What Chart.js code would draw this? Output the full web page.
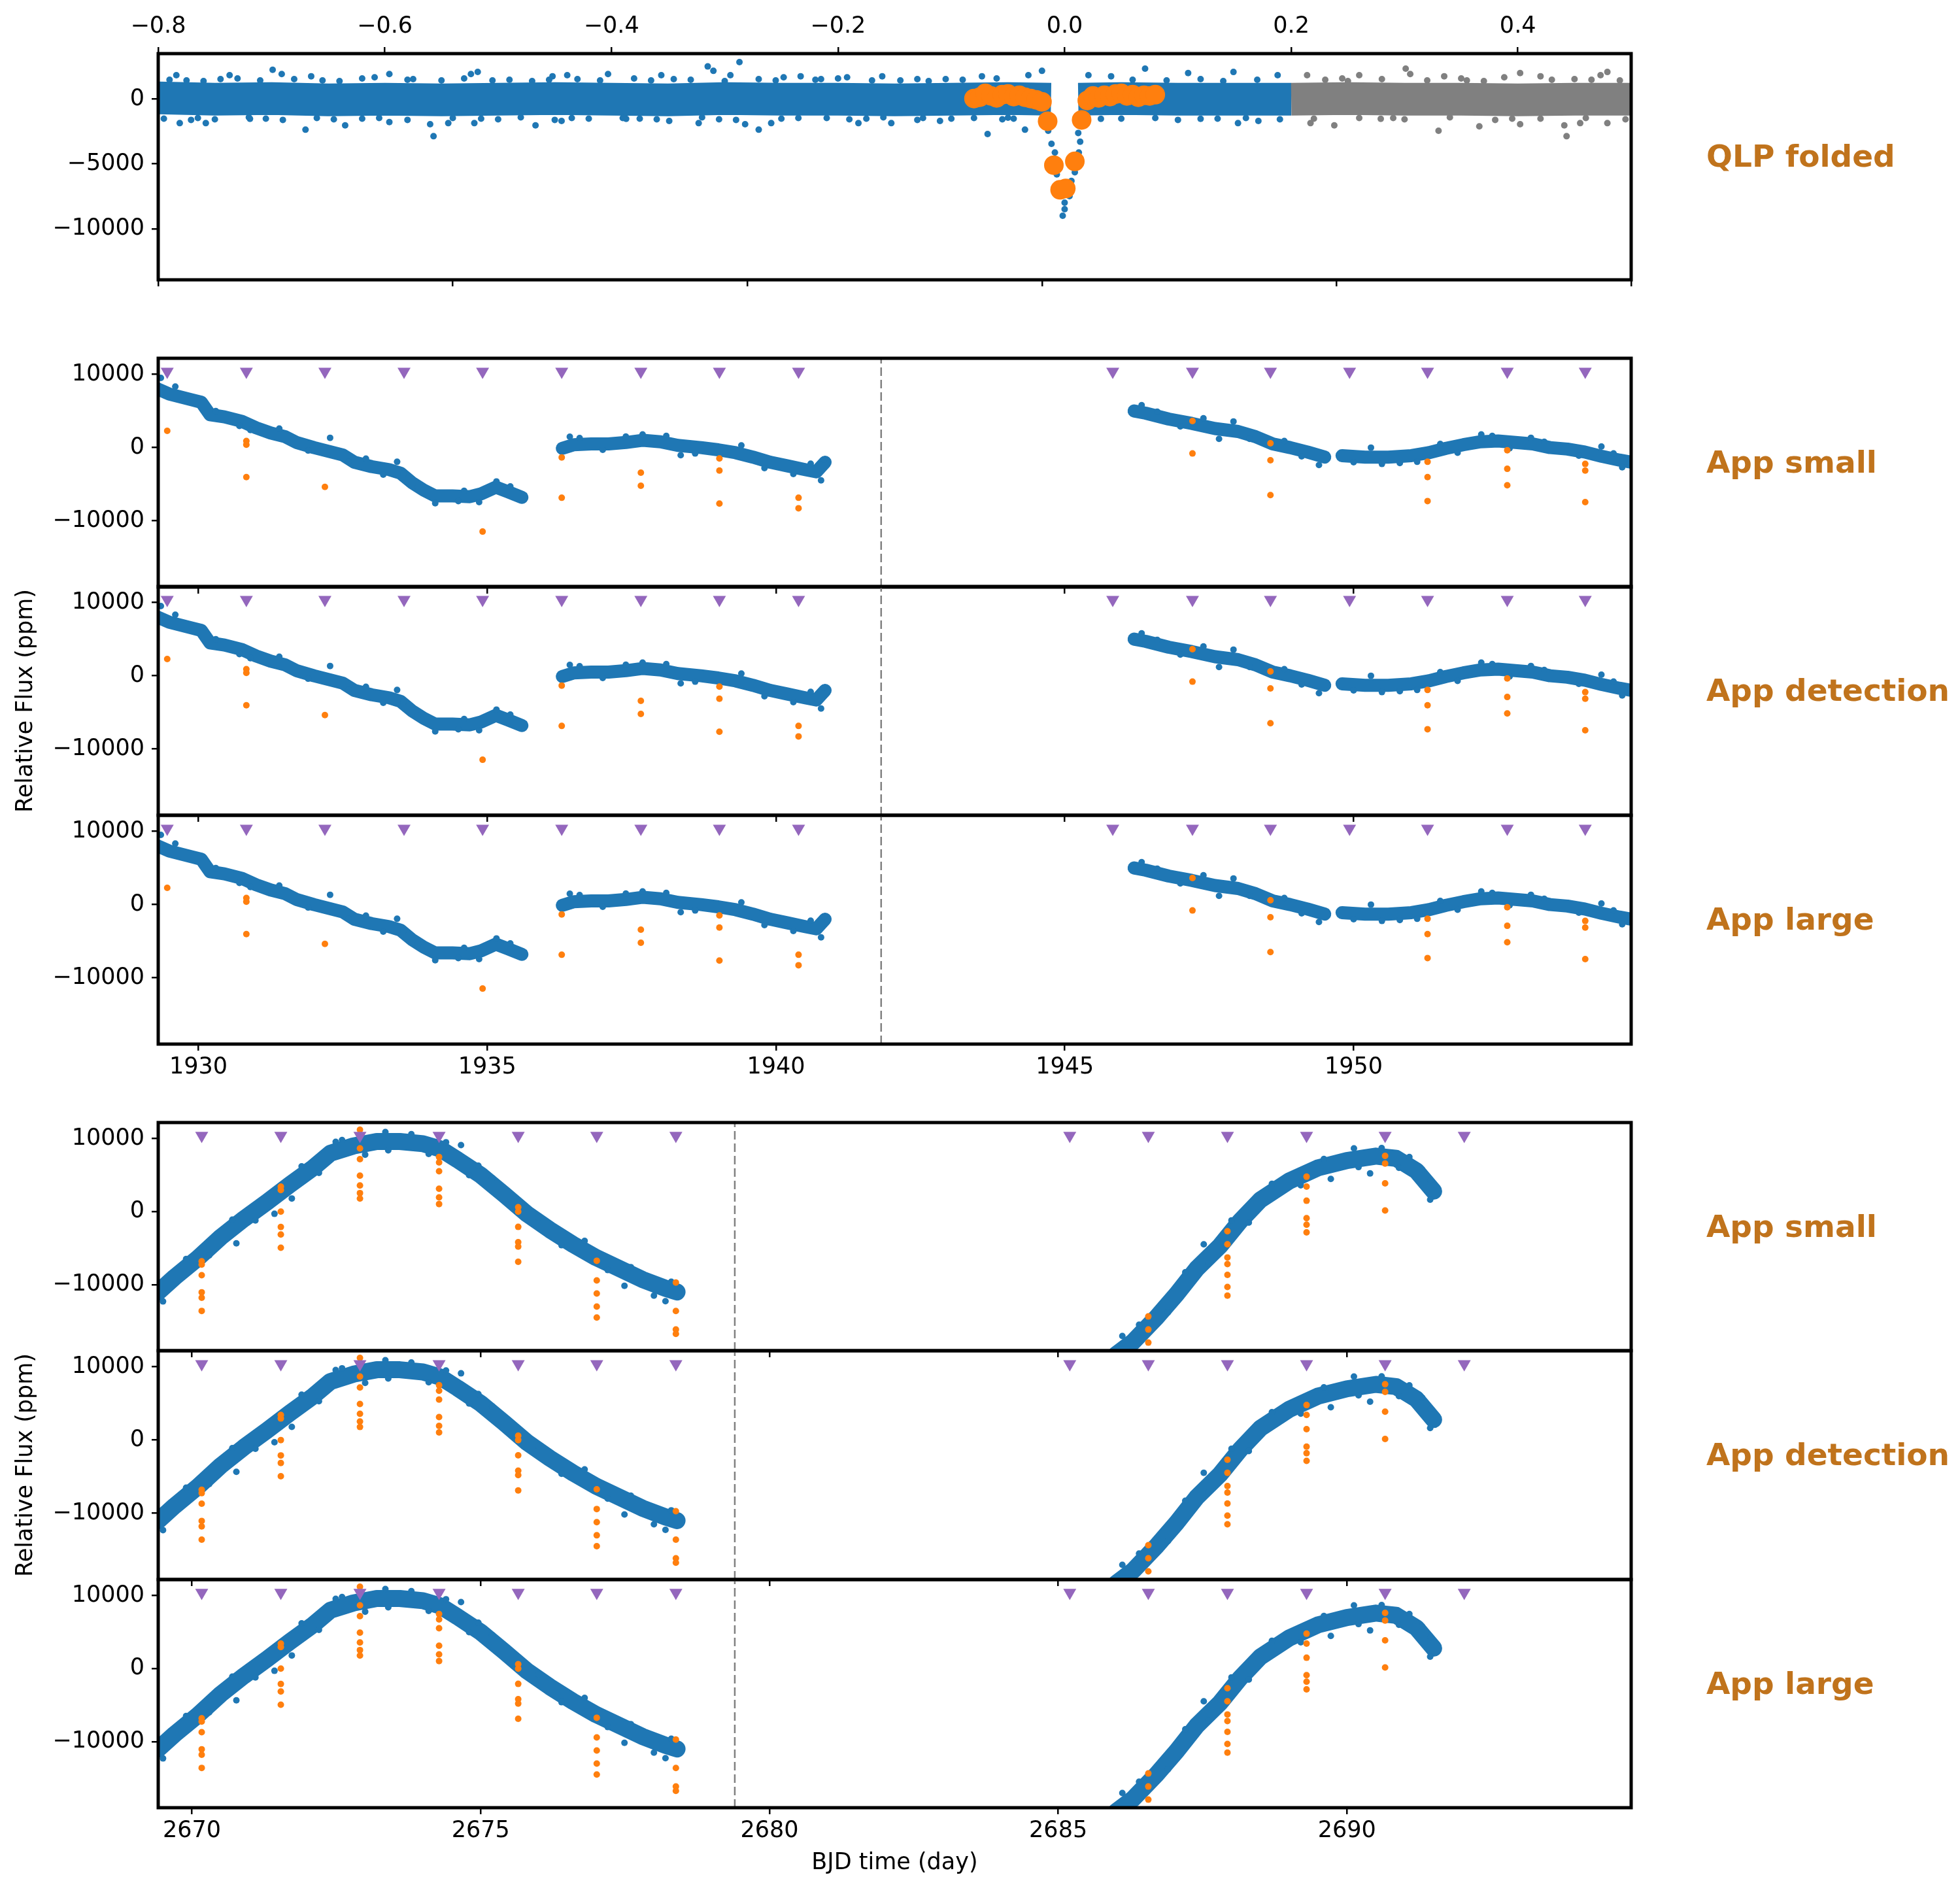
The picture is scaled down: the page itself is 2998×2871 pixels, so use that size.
<!DOCTYPE html>
<html lang="en">
<head>
<meta charset="UTF-8">
<title>QLP folded and App light curves</title>
<script src="https://cdn.jsdelivr.net/npm/chart.js"></script>
<style>
  body { margin: 0; background: #fff; }
  #page { position: relative; width: 2998px; height: 2871px; overflow: hidden; background: #fff; }
  #page canvas { position: absolute; left: 0; }
</style>
</head>
<body>
<div id="page">
  <canvas id="qlpFolded"></canvas>
  <canvas id="s1Small"></canvas>
  <canvas id="s1Detection"></canvas>
  <canvas id="s1Large"></canvas>
  <canvas id="s2Small"></canvas>
  <canvas id="s2Detection"></canvas>
  <canvas id="s2Large"></canvas>
</div>
<script>
// ---------- data ----------

// tick values
const phaseTicks = [-0.8, -0.6, -0.4, -0.2, 0.0, 0.2, 0.4];
const phaseBottomTicks = [-0.8, -0.54, -0.28, -0.02, 0.24, 0.5];
const qlpFluxTicks = [-10000, -5000, 0];
const fluxTicks = [-10000, 0, 10000];
const sector1Ticks = [1930, 1935, 1940, 1945, 1950];
const sector2Ticks = [2670, 2675, 2680, 2685, 2690];

// axis limits
const phaseMin = -0.8, phaseMax = 0.5;
const qlpFluxMin = -13950, qlpFluxMax = 3520;
const fluxMin = -19050, fluxMax = 12200;
const sector1Min = 1929.304, sector1Max = 1954.805;
const sector2Min = 2669.417, sector2Max = 2694.92;

// QLP folded: dense band centre (blue left/right of transit, grey beyond 0.2)
const qlpBandLeftPhase = [-0.8, -0.75, -0.7, -0.65, -0.6, -0.55, -0.5, -0.45, -0.4, -0.35, -0.3, -0.25, -0.2, -0.15, -0.1, -0.05, -0.012];
const qlpBandLeftFlux = [100, 0, 50, -50, 0, -50, 0, 50, 0, -50, 50, 0, 0, -50, 0, 50, 0];
const qlpBandRightPhase = [0.012, 0.05, 0.1, 0.15, 0.2];
const qlpBandRightFlux = [0, 50, 0, 0, 0];
const qlpGreyBandPhase = [0.2, 0.25, 0.3, 0.35, 0.4, 0.45, 0.5];
const qlpGreyBandFlux = [0, 50, 0, 0, -50, 0, 0];

// QLP folded: individual blue points (outliers, band edges, transit)
const qlpBluePoints = [
  [-0.784, 1850], [-0.737, 1850], [-0.699, 2270], [-0.691, 1940], [-0.665, 1770], [-0.609, 1690],
  [-0.596, 1940], [-0.524, 1940], [-0.518, 2110], [-0.452, 1770], [-0.439, 1850], [-0.403, 1940],
  [-0.356, 1850], [-0.315, 2530], [-0.310, 2190], [-0.295, 1850], [-0.287, 2860], [-0.248, 1690],
  [-0.233, 1770], [-0.192, 1690], [-0.161, 1770], [-0.073, 1770], [-0.032, 1850], [-0.020, 2190],
  [0.021, 1850], [0.041, 1770], [0.071, 2360], [0.109, 2020], [0.149, 2100], [0.188, 1850],
  [-0.781, -1850], [-0.771, -1600], [-0.758, -1850], [-0.719, -1515], [-0.670, -2355], [-0.635, -2020],
  [-0.596, -1770], [-0.560, -1935], [-0.557, -2860], [-0.544, -1850], [-0.521, -1850], [-0.467, -2020],
  [-0.444, -1680], [-0.387, -1515], [-0.349, -1680], [-0.323, -1850], [-0.282, -1935], [-0.270, -2355],
  [-0.259, -1850], [-0.182, -1850], [-0.153, -1850], [-0.110, -1680], [-0.068, -2690], [-0.050, -1430],
  [-0.035, -2355], [0.032, -1515], [0.120, -1515], [0.153, -1850], [0.171, -1680],
  [-0.79, 1500], [-0.76, 1400], [-0.73, 1600], [-0.71, 1450], [-0.68, 1550], [-0.64, 1400],
  [-0.62, 1600], [-0.58, 1500], [-0.55, 1450], [-0.53, 1600], [-0.49, 1500], [-0.47, 1400],
  [-0.43, 1550], [-0.41, 1450], [-0.38, 1600], [-0.33, 1500], [-0.30, 1400], [-0.27, 1550],
  [-0.22, 1500], [-0.20, 1600], [-0.17, 1450], [-0.13, 1550], [-0.12, 1400], [-0.09, 1500],
  [-0.06, 1600], [0.06, 1500], [0.09, 1450], [0.12, 1550], [0.14, 1400], [0.17, 1500],
  [-0.775, 1450], [-0.745, 1550], [-0.655, 1450], [-0.575, 1550], [-0.505, 1450], [-0.455, 1500],
  [-0.365, 1450], [-0.345, 1550], [-0.255, 1450], [-0.215, 1550], [-0.145, 1450], [-0.105, 1550],
  [-0.795, -1500], [-0.75, -1550], [-0.72, -1400], [-0.69, -1600], [-0.66, -1450], [-0.62, -1500],
  [-0.58, -1600], [-0.54, -1450], [-0.50, -1550], [-0.48, -1400], [-0.45, -1600], [-0.42, -1500],
  [-0.39, -1450], [-0.36, -1550], [-0.32, -1400], [-0.29, -1600], [-0.25, -1500], [-0.21, -1450],
  [-0.19, -1550], [-0.16, -1400], [-0.13, -1600], [-0.10, -1500], [-0.08, -1450], [-0.045, -1500],
  [0.05, -1500], [0.08, -1450], [0.10, -1600], [0.135, -1500], [0.16, -1450], [0.19, -1550],
  [-0.765, -1450], [-0.705, -1500], [-0.645, -1550], [-0.605, -1450], [-0.515, -1500], [-0.435, -1450],
  [-0.375, -1500], [-0.305, -1550], [-0.235, -1450], [-0.175, -1500], [-0.125, -1450], [-0.055, -1550],
  [-0.0175, -1090], [-0.0145, -2440], [-0.0116, -3450], [-0.0086, -4120], [-0.0069, -5810],
  [-0.004, -6820], [-0.0017, -9000], [0.0, -7990], [0.0, -8500], [0.0043, -7490], [0.006, -6310],
  [0.009, -5640], [0.0125, -4120], [0.0137, -3280], [0.012, -2610], [0.015, -1200]
];

// QLP folded: grey (out-of-window) points
const qlpGreyPoints = [
  [0.214, 1850], [0.260, 1850], [0.301, 2360], [0.305, 1940], [0.335, 1770], [0.388, 1690],
  [0.402, 2020], [0.420, 1770], [0.473, 1850], [0.479, 2100],
  [0.217, -1850], [0.238, -2020], [0.279, -1515], [0.330, -2440], [0.366, -2100], [0.402, -1935],
  [0.441, -2020], [0.443, -2860], [0.455, -1850], [0.479, -1850],
  [0.23, 1500], [0.25, 1400], [0.28, 1550], [0.32, 1450], [0.35, 1600], [0.37, 1400],
  [0.43, 1500], [0.45, 1550], [0.49, 1450], [0.245, 1600], [0.355, 1450], [0.465, 1500],
  [0.22, -1500], [0.26, -1450], [0.30, -1550], [0.34, -1400], [0.38, -1600], [0.42, -1500],
  [0.46, -1450], [0.495, -1550], [0.29, -1450], [0.395, -1500]
];

// QLP folded: binned (orange) points
const qlpBinPhase = [-0.080, -0.075, -0.070, -0.065, -0.060, -0.055, -0.050, -0.045, -0.040, -0.035,
  -0.030, -0.025, -0.020, -0.015, -0.0095, -0.004, 0.001, 0.009, 0.015, 0.020,
  0.025, 0.030, 0.035, 0.040, 0.045, 0.050, 0.055, 0.060, 0.065, 0.070, 0.075, 0.080];
const qlpBinFlux = [50, 150, 450, 250, 100, 350, 400, 200, 300, 150,
  50, -50, -200, -1700, -5100, -7000, -6900, -4800, -1600, -100,
  250, 100, 300, 200, 400, 450, 250, 350, 150, 300, 250, 350];

// sector 1 light curve trend (four continuous stretches)
const s1TrendDays = [
  [1929.3, 1929.5, 1929.7, 1929.9, 1930.05, 1930.2, 1930.45, 1930.75, 1931.0, 1931.25, 1931.5, 1931.7, 1932.0, 1932.3,
   1932.5, 1932.7, 1933.0, 1933.3, 1933.5, 1933.7, 1933.9, 1934.1, 1934.4, 1934.7, 1934.9, 1935.15, 1935.35, 1935.6],
  [1936.3, 1936.5, 1936.8, 1937.1, 1937.4, 1937.7, 1938.0, 1938.3, 1938.7, 1939.0, 1939.3, 1939.6, 1939.9, 1940.2, 1940.5, 1940.7, 1940.85],
  [1946.2, 1946.4, 1946.8, 1947.2, 1947.6, 1948.0, 1948.3, 1948.6, 1948.9, 1949.2, 1949.5],
  [1949.8, 1950.2, 1950.6, 1951.0, 1951.3, 1951.6, 1951.9, 1952.2, 1952.5, 1952.8, 1953.1, 1953.4, 1953.7, 1954.0, 1954.3, 1954.6, 1954.82]
];
const s1TrendFlux = [
  [8000, 7300, 6900, 6500, 6200, 4500, 4200, 3600, 2700, 2000, 1500, 700, 0, -600,
   -1000, -2000, -2600, -3000, -3500, -4800, -5800, -6600, -6600, -6700, -6300, -5400, -6000, -6800],
  [-100, 400, 500, 500, 700, 1000, 800, 300, 0, -300, -700, -1300, -2000, -2500, -3000, -3300, -2000],
  [5000, 4700, 3900, 3300, 2600, 2200, 1500, 500, 0, -600, -1300],
  [-1100, -1300, -1300, -1100, -700, -100, 400, 800, 900, 700, 500, 0, -200, -600, -1200, -1700, -2000]
];
const s1Scatter = [
  [1929.35, 9520], [1929.6, 8330], [1930.71, 2970], [1932.28, 1340], [1933.44, -1940], [1933.55, -3570],
  [1934.1, -7590], [1934.86, -7450], [1935.16, -4620], [1936.43, 1490], [1937.69, 1790], [1938.35, -1040],
  [1940.78, -4470], [1940.83, -1630], [1946.33, 5800], [1947.67, 1190], [1947.92, 3570], [1949.4, -2380],
  [1950.3, 0], [1950.49, -2230], [1951.1, -1940], [1952.21, 1790], [1953.07, 1340], [1954.29, 150], [1954.65, -2680],
  [1930.3, 5000], [1930.9, 2400], [1931.4, 2600], [1931.9, -400], [1932.6, -1900], [1932.9, -1500],
  [1933.2, -3700], [1933.8, -5400], [1934.5, -7300], [1934.6, -5900], [1935.4, -5300], [1936.6, 1300],
  [1937.0, -300], [1937.4, 1500], [1938.1, 1600], [1938.6, -800], [1939.4, 300], [1939.8, -2800],
  [1940.3, -3600], [1940.6, -2200], [1946.6, 4900], [1947.0, 2900], [1947.4, 4000], [1948.2, 1200],
  [1948.8, 900], [1949.1, -1200], [1950.0, -2000], [1950.8, -2100], [1951.5, 500], [1951.8, -700],
  [1952.4, 1600], [1952.7, -100], [1953.3, 800], [1953.9, -1100], [1954.5, -800]
];
// predicted transits (triangles) and in-transit points (orange) per transit
const s1Transits = [1929.46, 1930.83, 1932.19, 1933.56, 1934.92, 1936.29, 1937.66, 1939.02, 1940.39,
  1945.83, 1947.21, 1948.56, 1949.93, 1951.28, 1952.66, 1954.01];
const s1TransitFlux = [[2290], [900, 400, -4020], [-5360], [], [-11470], [-1340, -6850], [-3430, -5210],
  [-1490, -3130, -7650], [-6850, -8280], [], [3630, -800], [590, -1730, -6490], [],
  [-1940, -4020, -7300], [-360, -2900, -5150], [-2230, -3130, -7450]];
const s1GapDay = 1941.82;

// sector 2 light curve trend (two continuous stretches)
const s2TrendDays = [
  [2669.42, 2669.7, 2670.1, 2670.5, 2670.9, 2671.3, 2671.7, 2672.1, 2672.4, 2672.8, 2673.2, 2673.6, 2674.0,
   2674.3, 2674.6, 2675.0, 2675.4, 2675.8, 2676.2, 2676.6, 2677.0, 2677.4, 2677.8, 2678.2, 2678.4],
  [2686.0, 2686.3, 2686.7, 2687.05, 2687.4, 2687.8, 2688.15, 2688.5, 2689.0, 2689.5, 2690.0, 2690.5, 2690.85, 2691.2, 2691.5]
];
const s2TrendFlux = [
  [-11000, -9000, -6400, -3500, -1000, 1300, 3700, 6000, 8000, 9000, 9600, 9600, 9300,
   8600, 7100, 5000, 2400, -300, -2500, -4500, -6300, -7800, -9300, -10500, -11000],
  [-19600, -17800, -14500, -11300, -7800, -4700, -1300, 1600, 4200, 6000, 7000, 7600, 7300, 5600, 2800]
];
const s2Scatter = [
  [2670.77, -4340], [2671.43, -300], [2671.73, 1800], [2672.49, 9560], [2673.35, 10900], [2674.66, 9110],
  [2674.96, 6280], [2677.49, -10170], [2678.2, -12260], [2686.11, -17040], [2687.52, -4480], [2689.72, 4480],
  [2690.12, 8670], [2690.4, 5230], [2691.08, 7470], [2691.44, 1640],
  [2669.5, -12300], [2669.9, -6500], [2670.3, -6000], [2670.7, -1100], [2671.1, -1200], [2671.9, 6200],
  [2672.2, 5300], [2672.6, 9800], [2673.0, 7800], [2673.4, 8400], [2673.8, 10600], [2674.1, 7900],
  [2674.4, 9500], [2674.8, 5000], [2675.2, 4600], [2675.6, 500], [2676.0, -800], [2676.4, -4600],
  [2676.8, -4000], [2677.2, -8000], [2677.6, -7600], [2678.0, -11500], [2678.3, -9600],
  [2686.4, -15500], [2686.9, -13800], [2687.2, -8300], [2687.6, -7100], [2688.0, -1200], [2688.3, -1500],
  [2688.7, 3800], [2689.2, 3600], [2689.6, 7200], [2690.2, 6100], [2690.6, 8700], [2690.9, 6000],
  [2691.3, 5800], [2691.45, 4300]
];
const s2Transits = [2670.17, 2671.54, 2672.91, 2674.28, 2675.65, 2677.01, 2678.38,
  2685.20, 2686.56, 2687.93, 2689.30, 2690.66, 2692.03];
const s2TransitFlux = [[-6800, -7250, -8700, -11050, -11800, -13600], [3430, 2950, 0, -2100, -3140, -4940],
  [11220, 8670, 7180, 4930, 3580, 2540, 1790], [7480, 6730, 5530, 3140, 1940, 1040],
  [600, 0, -2090, -4180, -4790, -6880], [-6730, -9420, -11220, -13010, -14500], [-9720, -13610, -16150, -16750],
  [], [-14360, -16150, -17940], [-2690, -4480, -6280, -7180, -8670, -10320, -11510],
  [4780, 3430, 1490, -900, -1790, -2840], [7630, 6580, 3880, 150], []];
const s2GapDay = 2679.40;

const markerLevel = 10400;

// ---------- styling / helpers ----------
Chart.defaults.font.family = 'DejaVu Sans';
const BLUE = '#1f77b4', ORANGE = '#ff7f0e', PURPLE = '#9467bd', GREY = '#808080', TAG = '#c0731c';
const TICK_FONT = { family: 'DejaVu Sans', size: 35 };
const PAGE_W = 2998, AREA_RIGHT = 2495, AXIS_W = 242;

const fluxFmt = v => String(v).replace('-', '\u2212');
const phaseFmt = v => v.toFixed(1).replace('-', '\u2212');
const dayFmt = v => String(v);

function pairs(list) { return list.map(p => ({ x: p[0], y: p[1] })); }
function zipPts(xs, ys) { return xs.map((x, i) => ({ x: x, y: ys[i] })); }
function transitPts(days, groups) {
  const out = [];
  days.forEach((d, i) => groups[i].forEach(v => out.push({ x: d, y: v })));
  return out;
}

function dots(data, color, r) {
  return { data, showLine: false, pointRadius: r, pointHoverRadius: r, pointBackgroundColor: color,
    pointBorderWidth: 0, clip: 0 };
}
function band(data, color, w, cap) {
  return { data, showLine: true, pointRadius: 0, borderColor: color, borderWidth: w, borderCapStyle: cap,
    borderJoinStyle: 'round', tension: 0, fill: false, clip: 0 };
}
function markers(days) {
  return { data: days.map(d => ({ x: d, y: markerLevel })), showLine: false, pointStyle: 'triangle',
    pointRotation: 180, pointRadius: 11.5, pointBackgroundColor: PURPLE, pointBorderWidth: 0, clip: 0 };
}
function gapLine(day) {
  return { data: [{ x: day, y: fluxMin }, { x: day, y: fluxMax }], showLine: true, pointRadius: 0,
    borderColor: GREY, borderWidth: 2.5, borderDash: [13, 6], clip: 0 };
}

function axis(position, min, max, ticks, fmt, size, labels, pad, title) {
  return {
    type: 'linear', position, min, max, bounds: 'data',
    afterBuildTicks: s => { s.ticks = ticks.map(v => ({ value: v })); },
    afterFit: s => {
      if (s.isHorizontal()) s.height = size; else s.width = size;
      // keep the plot area exactly where the frame is
      s.paddingTop = 0; s.paddingBottom = 0; s.paddingLeft = 0; s.paddingRight = 0;
    },
    ticks: { display: labels, font: TICK_FONT, color: '#000', padding: pad, maxRotation: 0, minRotation: 0,
      autoSkip: false, callback: fmt },
    grid: { drawOnChartArea: false, drawTicks: true, tickLength: 10, tickWidth: 2.5, tickColor: '#000',
      color: '#000', lineWidth: 2.5 },
    border: { display: false },
    title: title ? { display: true, text: title.text, font: TICK_FONT, color: '#000', padding: title.padding }
                 : { display: false }
  };
}

// black frame around each panel
const framePlugin = {
  id: 'frame',
  afterDraw(chart) {
    const a = chart.chartArea, ctx = chart.ctx;
    ctx.save();
    ctx.lineWidth = 5;
    ctx.strokeStyle = '#000';
    ctx.strokeRect(a.left, a.top, a.right - a.left, a.bottom - a.top);
    ctx.restore();
  }
};
// panel name on the right
const tagPlugin = {
  id: 'panelTag',
  afterDraw(chart, args, opts) {
    if (!opts.text) return;
    const a = chart.chartArea, ctx = chart.ctx;
    ctx.save();
    ctx.font = 'bold 47px "DejaVu Sans"';
    ctx.fillStyle = TAG;
    ctx.textAlign = 'left';
    ctx.textBaseline = 'alphabetic';
    ctx.fillText(opts.text, 2610, (a.top + a.bottom) / 2);
    ctx.restore();
  }
};

function makeChart(id, top, bottom, above, below, padTop, scales, datasets, tag) {
  const cv = document.getElementById(id);
  cv.width = PAGE_W;
  cv.height = (bottom - top) + above + below;
  cv.style.top = (top - above) + 'px';
  return new Chart(cv, {
    type: 'scatter',
    data: { datasets },
    options: {
      responsive: false, animation: false, devicePixelRatio: 1, events: [],
      layout: { padding: { left: 0, right: PAGE_W - AREA_RIGHT, top: padTop, bottom: 0 } },
      plugins: { legend: { display: false }, tooltip: { enabled: false }, panelTag: { text: tag } },
      scales
    },
    plugins: [framePlugin, tagPlugin]
  });
}

// ---------- QLP folded ----------
makeChart('qlpFolded', 82, 428, 82, 16, 0, {
  x: axis('top', phaseMin, phaseMax, phaseTicks, phaseFmt, 82, true, 10),
  x2: axis('bottom', phaseMin, phaseMax, phaseBottomTicks, phaseFmt, 16, false, 5),
  y: axis('left', qlpFluxMin, qlpFluxMax, qlpFluxTicks, fluxFmt, AXIS_W, true, 11)
}, [
  dots(zipPts(qlpBinPhase, qlpBinFlux), ORANGE, 15),
  dots(pairs(qlpGreyPoints), GREY, 5),
  band(zipPts(qlpGreyBandPhase, qlpGreyBandFlux), GREY, 50, 'butt'),
  dots(pairs(qlpBluePoints), BLUE, 5),
  band(zipPts(qlpBandLeftPhase, qlpBandLeftFlux), BLUE, 50, 'butt'),
  band(zipPts(qlpBandRightPhase, qlpBandRightFlux), BLUE, 50, 'butt')
], 'QLP folded');

// ---------- light curve panels ----------
const sector1 = { min: sector1Min, max: sector1Max, ticks: sector1Ticks, transits: s1Transits,
  transitFlux: s1TransitFlux, scatter: s1Scatter, trendDays: s1TrendDays, trendFlux: s1TrendFlux,
  gap: s1GapDay, width: 20 };
const sector2 = { min: sector2Min, max: sector2Max, ticks: sector2Ticks, transits: s2Transits,
  transitFlux: s2TransitFlux, scatter: s2Scatter, trendDays: s2TrendDays, trendFlux: s2TrendFlux,
  gap: s2GapDay, width: 26 };

function lcDatasets(sec) {
  return [
    markers(sec.transits),
    dots(transitPts(sec.transits, sec.transitFlux), ORANGE, 5),
    dots(pairs(sec.scatter), BLUE, 5),
    ...sec.trendDays.map((d, i) => band(zipPts(d, sec.trendFlux[i]), BLUE, sec.width, 'round')),
    gapLine(sec.gap)
  ];
}

function lcPanel(id, top, bottom, below, sec, tag, opt) {
  const xTitle = opt.xTitle ? { text: 'BJD time (day)', padding: { top: 0, bottom: 0 } } : null;
  const yTitle = opt.yTitle ? { text: 'Relative Flux (ppm)', padding: { top: 19, bottom: 0 } } : null;
  makeChart(id, top, bottom, 20, below, 20, {
    x: axis('bottom', sec.min, sec.max, sec.ticks, dayFmt, below, !!opt.labels, 5, xTitle),
    y: axis('left', fluxMin, fluxMax, fluxTicks, fluxFmt, AXIS_W, true, 11, yTitle)
  }, lcDatasets(sec), tag);
}

lcPanel('s1Small', 548, 898, 16, sector1, 'App small', {});
lcPanel('s1Detection', 897, 1247, 16, sector1, 'App detection', { yTitle: true });
lcPanel('s1Large', 1247, 1597, 70, sector1, 'App large', { labels: true });
lcPanel('s2Small', 1717, 2066, 16, sector2, 'App small', {});
lcPanel('s2Detection', 2066, 2416, 16, sector2, 'App detection', { yTitle: true });
lcPanel('s2Large', 2416, 2765, 106, sector2, 'App large', { labels: true, xTitle: true });
</script>
</body>
</html>
